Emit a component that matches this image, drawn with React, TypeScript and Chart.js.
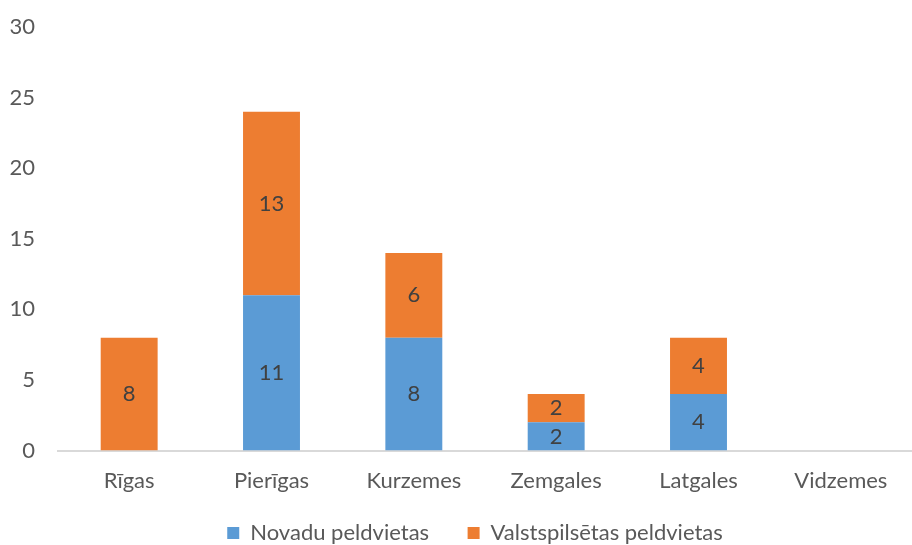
import React, { useEffect, useRef } from "react";
import { Chart, registerables } from "chart.js";

Chart.register(...registerables);

const categories = ["Rīgas", "Pierīgas", "Kurzemes", "Zemgales", "Latgales", "Vidzemes"];
const novadu = [0, 11, 8, 2, 4, 0];
const valsts = [8, 13, 6, 2, 4, 0];
const yTicks = [0, 5, 10, 15, 20, 25, 30];

const FONT = "Lato, 'Open Sans', sans-serif";

const valueLabels = {
  id: "valueLabels",
  afterDatasetsDraw(chart: any) {
    const { ctx } = chart;
    ctx.save();
    ctx.font = `22px ${FONT}`;
    ctx.fillStyle = "#404040";
    ctx.textAlign = "center";
    ctx.textBaseline = "middle";
    chart.data.datasets.forEach((ds: any, di: number) => {
      const meta = chart.getDatasetMeta(di);
      meta.data.forEach((bar: any, i: number) => {
        const v = ds.data[i];
        if (!v) return;
        const y = (bar.y + bar.base) / 2;
        ctx.fillText(String(v), bar.x, y);
      });
    });
    ctx.restore();
  },
};

const legendShift = {
  id: "legendShift",
  afterLayout(chart: any) {
    if (chart.legend) chart.legend.left += 38;
  },
};

export default function App() {
  const ref = useRef<HTMLCanvasElement>(null);
  useEffect(() => {
    document.body.style.margin = "0";
    const chart = new Chart(ref.current!, {
      type: "bar",
      data: {
        labels: categories,
        datasets: [
          { label: "Novadu peldvietas", data: novadu, backgroundColor: "#5b9bd5" },
          { label: "Valstspilsētas peldvietas", data: valsts, backgroundColor: "#ed7d31" },
        ],
      },
      options: {
        animation: false,
        responsive: false,
        maintainAspectRatio: false,
        layout: { padding: { left: 0, right: 0, top: 0, bottom: -9 } },
        datasets: { bar: { barPercentage: 0.4, categoryPercentage: 1 } },
        plugins: {
          legend: {
            position: "bottom",
            labels: {
              boxWidth: 12,
              boxHeight: 12,
              padding: 11,
              color: "#595959",
              font: { size: 22, family: FONT },
              generateLabels: (chart: any) => {
                const items = Chart.defaults.plugins.legend.labels.generateLabels(chart);
                return items.map((it: any, i: number) => ({
                  ...it,
                  text: i < items.length - 1 ? it.text + "\u2003\u2002" : it.text,
                  lineWidth: 0,
                }));
              },
            },
          },
          tooltip: { enabled: false },
        },
        scales: {
          x: {
            stacked: true,
            grid: { display: false, drawTicks: false },
            border: { color: "#d9d9d9", width: 2 },
            ticks: { color: "#595959", font: { size: 22, family: FONT }, padding: 17 },
          },
          y: {
            stacked: true,
            min: 0,
            max: 30,
            afterBuildTicks: (axis: any) => {
              axis.ticks = yTicks.map((v) => ({ value: v }));
            },
            afterFit: (axis: any) => {
              axis.width = 58;
              axis.paddingTop = 27;
              axis.paddingBottom = 0;
            },
            grid: { display: false, drawTicks: false },
            border: { display: false },
            ticks: { color: "#595959", font: { size: 22, family: FONT }, padding: 23 },
          },
        },
      },
      plugins: [valueLabels, legendShift],
    });
    return () => chart.destroy();
  }, []);
  return (
    <div style={{ width: 912, height: 545 }}>
      <canvas ref={ref} width={912} height={545} style={{ display: "block" }} />
    </div>
  );
}
